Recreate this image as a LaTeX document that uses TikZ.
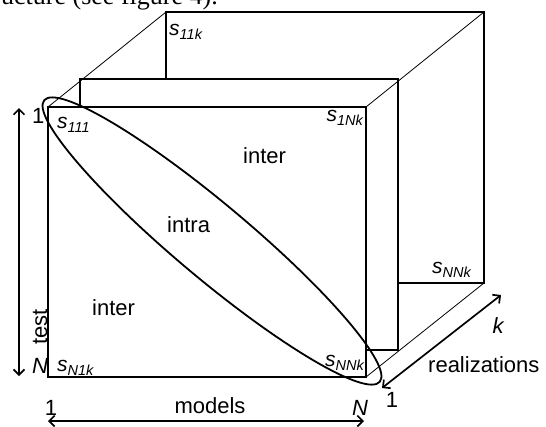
\documentclass[tikz,border=0pt]{standalone}
\usepackage{fontspec}
\setmainfont{Liberation Sans}
\newfontfamily\serifface{Liberation Serif}
\usetikzlibrary{arrows.meta}
\newcommand\fsz[1]{\fontsize{#1bp}{#1bp}\selectfont}
\newcommand\slabel[1]{{\fsz{21}\itshape s\raisebox{-4.5bp}{\fsz{14.5}\itshape #1}}}
\begin{document}
\begin{tikzpicture}[x=1bp,y=-1bp,
  thickline/.style={line width=1.8bp},
  thinline/.style={line width=0.8bp},
  face/.style={thickline, fill=white},
  lbl/.style={inner sep=0pt, font=\fsz{22}},
  slbl/.style={inner sep=0pt},
  tipb/.tip={Straight Barb[length=5.5bp,width=11bp]},
  dimarrow/.style={line width=1.7bp, tipb-tipb}]
\useasboundingbox (0,0) rectangle (546,426);
% cropped caption text at top
\node[anchor=base west, inner sep=0pt, font=\serifface\fsz{26}] (cap) at (1,4.5) {ucture (see figure 4).};
% corners
\coordinate (bTL) at (166,12);  \coordinate (bBR) at (484,283);
\coordinate (mTL) at (80,79);   \coordinate (mBR) at (398,350);
\coordinate (fTL) at (48,107);  \coordinate (fBR) at (366,377);
\coordinate (bTR) at (484,12);  \coordinate (fTR) at (366,107);
% faces
\draw[face] (bTL) rectangle (bBR);
\draw[face] (mTL) rectangle (mBR);
\draw[face] (fTL) rectangle (fBR);
% depth edges
\draw[thinline] (fTL) -- (bTL);
\draw[thinline] (fTR) -- (bTR);
\draw[thinline] (fBR) -- (bBR);
% diagonal ellipse
\draw[thickline, rotate around={-40:(212,241)}] (212,241) ellipse [x radius=219, y radius=37];
% dimension arrows
\coordinate (tTop) at (19,108); \coordinate (tBot) at (19,376);
\coordinate (mL) at (48,421);   \coordinate (mR) at (364,421);
\coordinate (rL) at (382,388);  \coordinate (rR) at (501,295);
\draw[dimarrow] (tTop) -- (tBot);
\draw[dimarrow] (mL) -- (mR);
\draw[dimarrow] (rL) -- (rR);
% axis labels
\node[lbl, anchor=base west] (t1) at (32,123) {1};
\node[lbl, anchor=base west] (tN) at (32,373) {\itshape N};
\node[lbl, anchor=base, rotate=90] (test) at (47,327) {test};
\node[lbl, anchor=base] (m1) at (51,415) {1};
\node[lbl, anchor=base] (models) at (210,413) {models};
\node[lbl, anchor=base] (mN) at (360,415) {\itshape N};
\node[lbl, anchor=base] (r1) at (392,407) {1};
\node[lbl, anchor=base] (rk) at (498,333) {\itshape k};
\node[lbl, anchor=base west] (real) at (428,372) {realizations};
% region labels
\node[lbl, anchor=base west] (inter1) at (243,163) {inter};
\node[lbl, anchor=base west] (intra) at (167,232) {intra};
\node[lbl, anchor=base west] (inter2) at (92,315) {inter};
% element labels
\node[slbl, anchor=base west] (s11k) at (169,35) {\slabel{11k}};
\node[slbl, anchor=base west] (s111) at (57,128) {\slabel{111}};
\node[slbl, anchor=base east] (s1Nk) at (363,121) {\slabel{1Nk}};
\node[slbl, anchor=base west] (sNNkb) at (432,273) {\slabel{NNk}};
\node[slbl, anchor=base east] (sNNkf) at (364,366) {\slabel{NNk}};
\node[slbl, anchor=base west] (sN1k) at (57,371) {\slabel{N1k}};
\end{tikzpicture}
\end{document}
